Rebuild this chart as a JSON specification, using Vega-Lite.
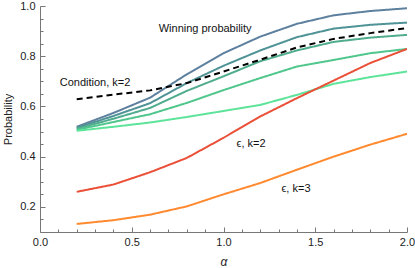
{
  "$schema": "https://vega.github.io/schema/vega-lite/v6.json",
  "width": 367,
  "height": 226,
  "autosize": {"type": "none"},
  "padding": {"left": 40, "top": 6, "right": 8, "bottom": 36},
  "background": "white",
  "config": {
    "view": {"stroke": null},
    "font": "Liberation Sans",
    "axis": {"grid": false, "labelFlush": false, "labelOverlap": false, "labelFont": "Liberation Sans", "titleFont": "Liberation Sans", "labelFontSize": 11, "titleFontSize": 11, "labelColor": "#222", "titleColor": "#222", "titleFontWeight": "normal", "domainColor": "#777", "tickColor": "#777"}
  },
  "datasets": {
    "lines": [
      {"s": "w1", "x": 0.2, "y": 0.519}, {"s": "w1", "x": 0.4, "y": 0.574}, {"s": "w1", "x": 0.6, "y": 0.635}, {"s": "w1", "x": 0.8, "y": 0.728}, {"s": "w1", "x": 1.0, "y": 0.812}, {"s": "w1", "x": 1.2, "y": 0.878}, {"s": "w1", "x": 1.4, "y": 0.929}, {"s": "w1", "x": 1.6, "y": 0.963}, {"s": "w1", "x": 1.8, "y": 0.98}, {"s": "w1", "x": 2.0, "y": 0.991},
      {"s": "w2", "x": 0.2, "y": 0.515}, {"s": "w2", "x": 0.4, "y": 0.562}, {"s": "w2", "x": 0.6, "y": 0.613}, {"s": "w2", "x": 0.8, "y": 0.693}, {"s": "w2", "x": 1.0, "y": 0.762}, {"s": "w2", "x": 1.2, "y": 0.823}, {"s": "w2", "x": 1.4, "y": 0.876}, {"s": "w2", "x": 1.6, "y": 0.91}, {"s": "w2", "x": 1.8, "y": 0.925}, {"s": "w2", "x": 2.0, "y": 0.934},
      {"s": "w3", "x": 0.2, "y": 0.511}, {"s": "w3", "x": 0.4, "y": 0.551}, {"s": "w3", "x": 0.6, "y": 0.594}, {"s": "w3", "x": 0.8, "y": 0.662}, {"s": "w3", "x": 1.0, "y": 0.72}, {"s": "w3", "x": 1.2, "y": 0.78}, {"s": "w3", "x": 1.4, "y": 0.823}, {"s": "w3", "x": 1.6, "y": 0.857}, {"s": "w3", "x": 1.8, "y": 0.874}, {"s": "w3", "x": 2.0, "y": 0.885},
      {"s": "w4", "x": 0.2, "y": 0.507}, {"s": "w4", "x": 0.4, "y": 0.538}, {"s": "w4", "x": 0.6, "y": 0.569}, {"s": "w4", "x": 0.8, "y": 0.614}, {"s": "w4", "x": 1.0, "y": 0.665}, {"s": "w4", "x": 1.2, "y": 0.713}, {"s": "w4", "x": 1.4, "y": 0.759}, {"s": "w4", "x": 1.6, "y": 0.785}, {"s": "w4", "x": 1.8, "y": 0.812}, {"s": "w4", "x": 2.0, "y": 0.829},
      {"s": "w5", "x": 0.2, "y": 0.503}, {"s": "w5", "x": 0.4, "y": 0.519}, {"s": "w5", "x": 0.6, "y": 0.536}, {"s": "w5", "x": 0.8, "y": 0.558}, {"s": "w5", "x": 1.0, "y": 0.582}, {"s": "w5", "x": 1.2, "y": 0.606}, {"s": "w5", "x": 1.4, "y": 0.646}, {"s": "w5", "x": 1.6, "y": 0.69}, {"s": "w5", "x": 1.8, "y": 0.717}, {"s": "w5", "x": 2.0, "y": 0.739},
      {"s": "eps2", "x": 0.2, "y": 0.26}, {"s": "eps2", "x": 0.4, "y": 0.289}, {"s": "eps2", "x": 0.6, "y": 0.338}, {"s": "eps2", "x": 0.8, "y": 0.395}, {"s": "eps2", "x": 1.0, "y": 0.475}, {"s": "eps2", "x": 1.2, "y": 0.56}, {"s": "eps2", "x": 1.4, "y": 0.633}, {"s": "eps2", "x": 1.6, "y": 0.703}, {"s": "eps2", "x": 1.8, "y": 0.773}, {"s": "eps2", "x": 2.0, "y": 0.829},
      {"s": "eps3", "x": 0.2, "y": 0.132}, {"s": "eps3", "x": 0.4, "y": 0.147}, {"s": "eps3", "x": 0.6, "y": 0.169}, {"s": "eps3", "x": 0.8, "y": 0.202}, {"s": "eps3", "x": 1.0, "y": 0.25}, {"s": "eps3", "x": 1.2, "y": 0.295}, {"s": "eps3", "x": 1.4, "y": 0.348}, {"s": "eps3", "x": 1.6, "y": 0.4}, {"s": "eps3", "x": 1.8, "y": 0.448}, {"s": "eps3", "x": 2.0, "y": 0.491},
      {"s": "cond", "x": 0.2, "y": 0.629}, {"s": "cond", "x": 0.4, "y": 0.647}, {"s": "cond", "x": 0.6, "y": 0.664}, {"s": "cond", "x": 0.8, "y": 0.693}, {"s": "cond", "x": 1.0, "y": 0.739}, {"s": "cond", "x": 1.2, "y": 0.786}, {"s": "cond", "x": 1.4, "y": 0.835}, {"s": "cond", "x": 1.6, "y": 0.869}, {"s": "cond", "x": 1.8, "y": 0.892}, {"s": "cond", "x": 2.0, "y": 0.912}
    ],
    "labels": [
      {"label": "Winning probability", "x": 0.9, "y": 0.907},
      {"label": "Condition, k=2", "x": 0.30, "y": 0.694},
      {"label": "ϵ, k=2", "x": 1.15, "y": 0.452},
      {"label": "ϵ, k=3", "x": 1.395, "y": 0.273}
    ]
  },
  "layer": [
    {
      "data": {"name": "lines"},
      "mark": {"type": "line", "strokeWidth": 2, "clip": true},
      "encoding": {
        "x": {"field": "x", "type": "quantitative", "scale": {"domain": [0, 2], "nice": false}, "title": "α",
          "axis": {"values": [0, 0.5, 1, 1.5, 2], "format": ".1f", "tickSize": -5, "labelPadding": 9, "titleFontStyle": "italic", "titlePadding": 9, "titleFontSize": 12}},
        "y": {"field": "y", "type": "quantitative", "scale": {"domain": [0.1, 1.0], "nice": false, "zero": false}, "title": "Probability",
          "axis": {"values": [0.2, 0.4, 0.6, 0.8, 1.0], "format": ".1f", "tickSize": -5, "labelPadding": 10, "titlePadding": 6}},
        "color": {"field": "s", "type": "nominal", "legend": null,
          "scale": {"domain": ["w1", "w2", "w3", "w4", "w5", "eps2", "eps3", "cond"], "range": ["#5e809f", "#4f9396", "#50ac8e", "#4fc68c", "#5ee49a", "#ea5038", "#ff8a30", "#000000"]}},
        "strokeDash": {"field": "s", "type": "nominal", "legend": null,
          "scale": {"domain": ["w1", "w2", "w3", "w4", "w5", "eps2", "eps3", "cond"], "range": [[1, 0], [1, 0], [1, 0], [1, 0], [1, 0], [1, 0], [1, 0], [6, 4]]}},
        "order": {"field": "x", "type": "quantitative"}
      }
    },
    {
      "data": {"name": "labels"},
      "mark": {"type": "text", "font": "Liberation Sans", "fontSize": 11, "color": "#111"},
      "encoding": {
        "x": {"field": "x", "type": "quantitative", "axis": {"values": [0.1, 0.2, 0.3, 0.4, 0.6, 0.7, 0.8, 0.9, 1.1, 1.2, 1.3, 1.4, 1.6, 1.7, 1.8, 1.9], "labels": false, "domain": false, "tickSize": -3, "title": null, "orient": "bottom"}},
        "y": {"field": "y", "type": "quantitative", "axis": {"values": [0.15, 0.25, 0.3, 0.35, 0.45, 0.5, 0.55, 0.65, 0.7, 0.75, 0.85, 0.9, 0.95], "labels": false, "domain": false, "tickSize": -3, "title": null, "orient": "left"}},
        "text": {"field": "label"}
      }
    }
  ],
  "resolve": {"axis": {"x": "independent", "y": "independent"}}
}
